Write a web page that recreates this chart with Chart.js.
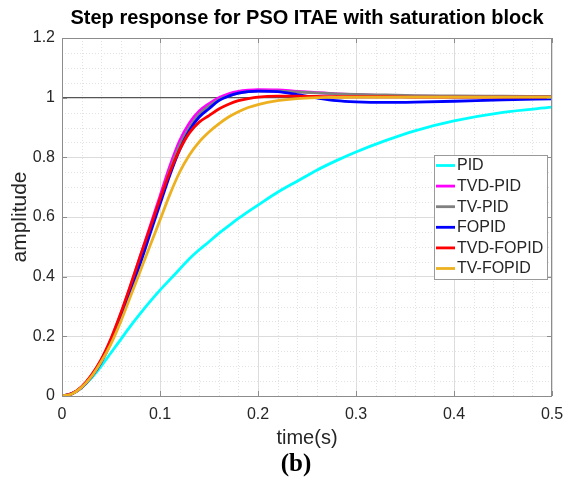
<!DOCTYPE html>
<html>
<head>
<meta charset="utf-8">
<script src="https://cdn.jsdelivr.net/npm/chart.js@4.4.0/dist/chart.umd.min.js"></script>
<style>
  html, body { margin: 0; padding: 0; background: #fff; }
  #wrap { width: 566px; height: 479px; position: relative; }
</style>
</head>
<body>
<div id="wrap"><canvas id="stepChart"></canvas></div>
<script>
// time axis (s), shared by every response
const time = [0, 0.01, 0.02, 0.03, 0.04, 0.05, 0.06, 0.07, 0.08, 0.09, 0.10, 0.11, 0.12, 0.13, 0.14, 0.15,
              0.16, 0.17, 0.18, 0.19, 0.20, 0.22, 0.24, 0.26, 0.28, 0.30, 0.33, 0.36, 0.40, 0.45, 0.50];

const pid      = [0, 0.007, 0.028, 0.06, 0.1, 0.145, 0.19, 0.235, 0.277, 0.317, 0.355, 0.39, 0.425, 0.46, 0.49, 0.517,
                  0.545, 0.57, 0.595, 0.618, 0.64, 0.683, 0.72, 0.757, 0.789, 0.818, 0.856, 0.889, 0.922, 0.951, 0.968];
const tvdPid   = [0, 0.008, 0.03, 0.068, 0.12, 0.19, 0.275, 0.37, 0.47, 0.57, 0.67, 0.77, 0.855, 0.915, 0.955, 0.98,
                  1.0, 1.013, 1.021, 1.025, 1.027, 1.026, 1.021, 1.017, 1.013, 1.01, 1.007, 1.005, 1.004, 1.003, 1.002];
const tvPid    = [0, 0.008, 0.03, 0.067, 0.118, 0.186, 0.27, 0.363, 0.46, 0.558, 0.655, 0.755, 0.84, 0.9, 0.945, 0.972,
                  0.993, 1.006, 1.015, 1.02, 1.022, 1.022, 1.019, 1.016, 1.013, 1.011, 1.009, 1.007, 1.006, 1.005, 1.004];
const fopid    = [0, 0.007, 0.028, 0.064, 0.113, 0.18, 0.26, 0.35, 0.445, 0.545, 0.643, 0.74, 0.825, 0.89, 0.935, 0.963,
                  0.99, 1.005, 1.015, 1.02, 1.022, 1.02, 1.01, 0.999, 0.99, 0.986, 0.984, 0.985, 0.988, 0.993, 0.996];
const tvdFopid = [0, 0.008, 0.031, 0.07, 0.123, 0.193, 0.278, 0.372, 0.47, 0.565, 0.66, 0.75, 0.825, 0.882, 0.918, 0.94,
                  0.962, 0.978, 0.99, 0.997, 1.002, 1.005, 1.005, 1.004, 1.003, 1.003, 1.003, 1.002, 1.002, 1.002, 1.002];
const tvFopid  = [0, 0.007, 0.029, 0.065, 0.115, 0.175, 0.25, 0.335, 0.42, 0.505, 0.59, 0.675, 0.75, 0.808, 0.852, 0.885,
                  0.912, 0.935, 0.953, 0.967, 0.977, 0.99, 0.997, 1.0, 1.001, 1.002, 1.002, 1.002, 1.002, 1.002, 1.002];

// set-point reference line
const refTime  = [0, 0.5];
const refLevel = [1, 1];

const seriesNames  = ['PID', 'TVD-PID', 'TV-PID', 'FOPID', 'TVD-FOPID', 'TV-FOPID'];
const seriesValues = [pid, tvdPid, tvPid, fopid, tvdFopid, tvFopid];
const seriesColors = ['#00FFFF', '#FF00FF', '#808080', '#0000FF', '#FF0000', '#EDB120'];

const xMajor = [0, 0.1, 0.2, 0.3, 0.4, 0.5];
const yMajor = [0, 0.2, 0.4, 0.6, 0.8, 1.0, 1.2];

const SANS = "'Liberation Sans', Arial, Helvetica, sans-serif";
const SERIF = "'Liberation Serif', 'Times New Roman', serif";
const TEXT_COLOR = '#262626';

const toPoints = (xs, ys) => xs.map((x, i) => ({x: x, y: ys[i]}));

const datasets = seriesNames.map((name, i) => ({
    label: name,
    data: toPoints(time, seriesValues[i]),
    borderColor: seriesColors[i],
    backgroundColor: seriesColors[i],
    borderWidth: 2.8,
    pointRadius: 0,
    cubicInterpolationMode: 'monotone',
    // later series drawn on top, like the original plot
    order: seriesNames.length - i
}));
datasets.push({
    label: 'reference',
    data: toPoints(refTime, refLevel),
    borderColor: '#555555',
    borderWidth: 1.2,
    pointRadius: 0,
    order: 99
});

// minor grid, box, inward ticks, legend and the texts
const matlabLook = {
    id: 'matlabLook',
    beforeDatasetsDraw(chart) {
        const {ctx, chartArea: a, scales: {x, y}} = chart;
        ctx.save();
        ctx.strokeStyle = '#e2e2e2';
        ctx.lineWidth = 1;
        ctx.setLineDash([1, 2]);
        for (let k = 1; k < 25; k++) {
            if (k % 5 === 0) continue;
            const px = Math.round(x.getPixelForValue(k * 0.02)) + 0.5;
            ctx.beginPath(); ctx.moveTo(px, a.top); ctx.lineTo(px, a.bottom); ctx.stroke();
        }
        for (let k = 1; k < 24; k++) {
            if (k % 4 === 0) continue;
            const py = Math.round(y.getPixelForValue(k * 0.05)) + 0.5;
            ctx.beginPath(); ctx.moveTo(a.left, py); ctx.lineTo(a.right, py); ctx.stroke();
        }
        ctx.restore();
    },
    afterDatasetsDraw(chart) {
        const {ctx, chartArea: a, scales: {x, y}} = chart;
        ctx.save();
        ctx.strokeStyle = '#8c8c8c';
        ctx.lineWidth = 1;
        ctx.strokeRect(Math.round(a.left) + 0.5, Math.round(a.top) + 0.5,
                       Math.round(a.right - a.left) - 1, Math.round(a.bottom - a.top));
        const tl = 5;
        xMajor.forEach(v => {
            const px = Math.round(x.getPixelForValue(v)) + 0.5;
            ctx.beginPath();
            ctx.moveTo(px, a.bottom); ctx.lineTo(px, a.bottom - tl);
            ctx.moveTo(px, a.top); ctx.lineTo(px, a.top + tl);
            ctx.stroke();
        });
        yMajor.forEach(v => {
            const py = Math.round(y.getPixelForValue(v)) + 0.5;
            ctx.beginPath();
            ctx.moveTo(a.left, py); ctx.lineTo(a.left + tl, py);
            ctx.moveTo(a.right, py); ctx.lineTo(a.right - tl, py);
            ctx.stroke();
        });

        // legend box
        const boxR = a.right - 5, boxW = 113, boxT = a.top + 117, rowH = 20.6;
        const boxL = boxR - boxW, boxH = rowH * seriesNames.length + 0.5;
        ctx.fillStyle = '#fff';
        ctx.fillRect(boxL, boxT, boxW, boxH);
        ctx.strokeStyle = '#9a9a9a';
        ctx.strokeRect(Math.round(boxL) + 0.5, Math.round(boxT) + 0.5, boxW, Math.round(boxH));
        ctx.font = '16px ' + SANS;
        ctx.textBaseline = 'middle';
        ctx.textAlign = 'left';
        seriesNames.forEach((name, i) => {
            const cy = boxT + 10.5 + i * rowH;
            ctx.strokeStyle = seriesColors[i];
            ctx.lineWidth = 2.8;
            ctx.beginPath(); ctx.moveTo(boxL + 2, cy); ctx.lineTo(boxL + 21, cy); ctx.stroke();
            ctx.fillStyle = TEXT_COLOR;
            ctx.fillText(name, boxL + 23, cy + 0.5);
        });
        ctx.restore();
    },
    afterDraw(chart) {
        const {ctx, chartArea: a} = chart;
        const cx = (a.left + a.right) / 2;
        ctx.save();
        ctx.textAlign = 'center';
        ctx.textBaseline = 'middle';
        ctx.fillStyle = '#000';
        ctx.font = 'bold 20px ' + SANS;
        ctx.fillText('Step response for PSO ITAE with saturation block', cx, 18);
        ctx.fillStyle = TEXT_COLOR;
        ctx.font = '20px ' + SANS;
        ctx.fillText('time(s)', cx, 438);
        ctx.save();
        ctx.font = '21px ' + SANS;
        ctx.translate(20, (a.top + a.bottom) / 2);
        ctx.rotate(-Math.PI / 2);
        ctx.fillText('amplitude', 0, 0);
        ctx.restore();
        ctx.fillStyle = '#000';
        ctx.font = 'bold 25px ' + SERIF;
        ctx.fillText('(b)', 296, 465);
        ctx.restore();
    }
};

const tickText = v => String(+v.toFixed(2));

new Chart(document.getElementById('stepChart'), {
    type: 'line',
    data: {datasets: datasets},
    options: {
        responsive: true,
        maintainAspectRatio: false,
        animation: false,
        devicePixelRatio: 1,
        layout: {padding: {left: 0, top: 38, right: 14, bottom: 0}},
        plugins: {
            legend: {display: false},
            tooltip: {enabled: false}
        },
        scales: {
            x: {
                type: 'linear',
                min: 0,
                max: 0.5,
                afterFit: s => { s.height = 83; s.paddingLeft = 0; s.paddingRight = 0; },
                ticks: {
                    stepSize: 0.1,
                    maxRotation: 0,
                    padding: 9,
                    color: TEXT_COLOR,
                    font: {family: SANS, size: 16},
                    callback: tickText
                },
                grid: {color: '#dcdcdc', drawTicks: false},
                border: {display: false}
            },
            y: {
                type: 'linear',
                min: 0,
                max: 1.2,
                afterFit: s => { s.width = 62; s.paddingTop = 0; s.paddingBottom = 0; },
                ticks: {
                    stepSize: 0.2,
                    padding: 7,
                    color: TEXT_COLOR,
                    font: {family: SANS, size: 16},
                    callback: tickText
                },
                grid: {color: '#dcdcdc', drawTicks: false},
                border: {display: false}
            }
        }
    },
    plugins: [matlabLook]
});
</script>
</body>
</html>
